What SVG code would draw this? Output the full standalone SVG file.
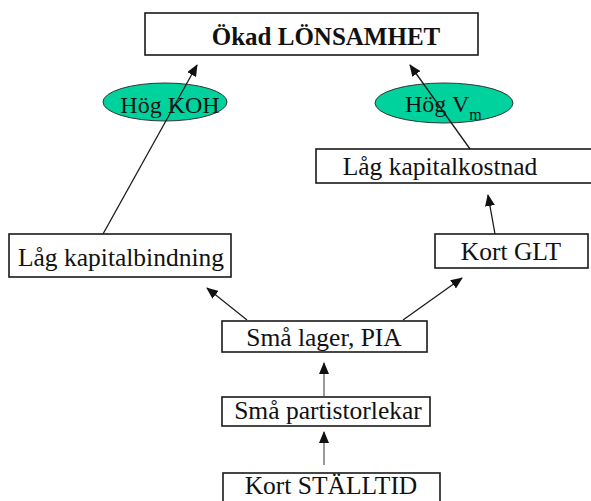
<svg xmlns="http://www.w3.org/2000/svg" width="591" height="501" viewBox="0 0 591 501">
  <style>
    .box { fill: #ffffff; stroke: #1a1a1a; stroke-width: 1.6; }
    .oval { fill: #00D29E; stroke: #333333; stroke-width: 1; }
    .lbl { font-family: "Liberation Serif", "Times New Roman", serif; font-size: 25.5px; fill: #111111; text-anchor: middle; }
    .small { font-size: 24px; }
    .title { font-weight: bold; font-size: 25px; }
    .edge { stroke: #1a1a1a; stroke-width: 1.3; fill: none; marker-end: url(#head); }
    .edge-grey { stroke: #9a9a9a; stroke-width: 2; fill: none; marker-end: url(#head); }
  </style>
  <defs>
    <marker id="head" markerUnits="userSpaceOnUse" markerWidth="12" markerHeight="10" refX="11" refY="5" orient="auto">
      <path d="M0,0 L12,5 L0,10 Z" fill="#111111"/>
    </marker>
  </defs>
  <rect width="591" height="501" fill="#ffffff"/>

  <g id="okad-lonsamhet">
    <rect class="box" x="145" y="13" width="333" height="42"/>
    <text class="lbl title" x="326" y="45">Ökad LÖNSAMHET</text>
  </g>

  <g id="hog-koh">
    <ellipse class="oval" cx="165" cy="102" rx="62" ry="19"/>
    <text class="lbl small" x="170" y="113">Hög KOH</text>
  </g>

  <g id="hog-vm">
    <ellipse class="oval" cx="444" cy="103" rx="69" ry="20"/>
    <text class="lbl small" x="405" y="112" style="text-anchor:start">Hög V<tspan font-size="16" dy="8">m</tspan></text>
  </g>

  <g id="lag-kapitalkostnad">
    <rect class="box" x="316" y="149" width="276" height="34"/>
    <text class="lbl" x="440" y="175">Låg kapitalkostnad</text>
  </g>

  <g id="lag-kapitalbindning">
    <rect class="box" x="9" y="234" width="222" height="43"/>
    <text class="lbl" x="121" y="266">Låg kapitalbindning</text>
  </g>

  <g id="kort-glt">
    <rect class="box" x="435" y="234" width="153" height="34"/>
    <text class="lbl" x="511" y="260">Kort GLT</text>
  </g>

  <g id="sma-lager-pia">
    <rect class="box" x="222" y="321" width="205" height="31"/>
    <text class="lbl" x="324" y="346" font-size="24.5">Små lager, PIA</text>
  </g>

  <g id="sma-partistorlekar">
    <rect class="box" x="222" y="397" width="208" height="29"/>
    <text class="lbl" x="328" y="419">Små partistorlekar</text>
  </g>

  <g id="kort-stalltid">
    <rect class="box" x="223" y="473" width="217" height="40"/>
    <text class="lbl" x="331" y="494">Kort STÄLLTID</text>
  </g>

  <g id="connectors">
    <line class="edge" x1="103" y1="234" x2="197" y2="65"/>
    <line class="edge" x1="470" y1="149" x2="410" y2="65"/>
    <line class="edge" x1="495" y1="234" x2="488" y2="195"/>
    <line class="edge" x1="247" y1="320" x2="207" y2="288"/>
    <line class="edge" x1="403" y1="320" x2="462" y2="278"/>
    <line class="edge-grey" x1="324" y1="396" x2="324" y2="363"/>
    <line class="edge-grey" x1="324" y1="465" x2="324" y2="432"/>
  </g>
</svg>
